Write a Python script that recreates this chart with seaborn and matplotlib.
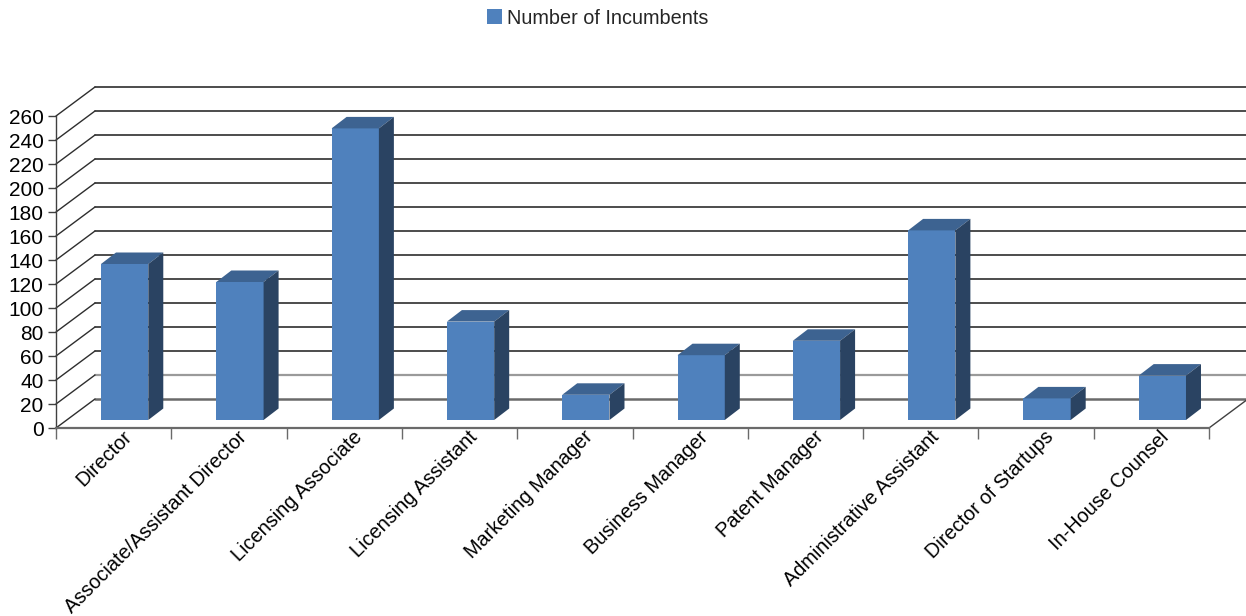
import matplotlib
matplotlib.use("Agg")
import matplotlib.pyplot as plt
import matplotlib.transforms as mtransforms
from matplotlib.patches import Polygon, Patch
from matplotlib.lines import Line2D
import seaborn as sns
import pandas as pd

categories = [
    "Director",
    "Associate/Assistant Director",
    "Licensing Associate",
    "Licensing Assistant",
    "Marketing Manager",
    "Business Manager",
    "Patent Manager",
    "Administrative Assistant",
    "Director of Startups",
    "In-House Counsel",
]
incumbents = [130, 115, 243, 82, 21, 54, 66, 158, 18, 37]
y_ticks = list(range(0, 261, 20))
series_name = "Number of Incumbents"

sns.set_theme(style="white")
plt.rcParams["font.family"] = ["Liberation Sans", "DejaVu Sans"]

W, H, DPI = 1246, 616, 100
fig = plt.figure(figsize=(W / DPI, H / DPI), dpi=DPI)
# front plane of the 3-D box (floor edge to top of value axis)
ax = fig.add_axes([56 / W, (H - 428) / H, (1209 - 56) / W, (428 - 116) / H])

FRONT = "#4F81BD"
TOP = "#3D6391"
SIDE = "#2A4362"
GRID = "#2E2E2E"

# depth offsets in pixels (right, up)
WALL = (39, 29)       # back wall
BAR_FRONT = (11, 8)   # front face of the bars
BAR_DEPTH = (15, 11.5)

df = pd.DataFrame({"role": categories, "count": incumbents})
sns.barplot(data=df, x="role", y="count", color=FRONT, saturation=1,
            width=0.41, linewidth=0, ax=ax, zorder=3)

ax.set_xlim(-0.5, len(categories) - 0.5)
ax.set_ylim(0, 260)
ax.set_xlabel("")
ax.set_ylabel("")


def shifted(dx, dy):
    return ax.transData + mtransforms.ScaledTranslation(dx / DPI, dy / DPI, fig.dpi_scale_trans)


def to_px(x, y, off=(0, 0)):
    px, py = ax.transData.transform((x, y))
    return (px + off[0], py + off[1])


ident = mtransforms.IdentityTransform()

# back wall gridlines and the diagonals on the side wall
x_lo, x_hi = -0.5, len(categories) - 0.5
for v in y_ticks:
    col, lw = GRID, 1.2
    if v == 0:
        col, lw = "#6A6A6A", 1.8
    elif v == 20:
        col, lw = "#9A9A9A", 1.6
    ax.plot([x_lo, x_hi], [v, v], transform=shifted(*WALL), color=col,
            lw=lw, clip_on=False, zorder=1)
    p0 = to_px(x_lo, v)
    p1 = to_px(x_lo, v, WALL)
    ax.add_line(Line2D([p0[0], p1[0]], [p0[1], p1[1]], transform=ident,
                       color=GRID, lw=1.0, clip_on=False, zorder=1))

# right edge of the floor
p0 = to_px(x_hi, 0)
p1 = to_px(x_hi, 0, WALL)
ax.add_line(Line2D([p0[0], p1[0]], [p0[1], p1[1]], transform=ident,
                   color="#404040", lw=1.0, clip_on=False, zorder=1))

# give each bar its top and side faces
back_off = (BAR_FRONT[0] + BAR_DEPTH[0], BAR_FRONT[1] + BAR_DEPTH[1])
for patch in list(ax.patches):
    x0 = patch.get_x()
    x1 = x0 + patch.get_width()
    h = patch.get_height()
    patch.set_transform(shifted(*BAR_FRONT))
    patch.set_clip_on(False)
    top = [to_px(x0, h, BAR_FRONT), to_px(x1, h, BAR_FRONT),
           to_px(x1, h, back_off), to_px(x0, h, back_off)]
    side = [to_px(x1, 0, BAR_FRONT), to_px(x1, h, BAR_FRONT),
            to_px(x1, h, back_off), to_px(x1, 0, back_off)]
    ax.add_patch(Polygon(top, closed=True, transform=ident, facecolor=TOP,
                         edgecolor="none", clip_on=False, zorder=3))
    ax.add_patch(Polygon(side, closed=True, transform=ident, facecolor=SIDE,
                         edgecolor="none", clip_on=False, zorder=3))

# axes styling
for s in ("top", "right"):
    ax.spines[s].set_visible(False)
ax.spines["left"].set_color("#404040")
ax.spines["left"].set_linewidth(1.0)
ax.spines["bottom"].set_color("#6A6A6A")
ax.spines["bottom"].set_linewidth(1.6)
ax.spines["left"].set_zorder(2)
ax.spines["bottom"].set_zorder(2)

ax.set_yticks(y_ticks)
ax.tick_params(axis="y", which="major", left=True, length=6, width=1.0,
               color="#404040", labelsize=15, pad=3, labelcolor="black")

ax.set_xticks([i - 0.5 for i in range(len(categories) + 1)], minor=True)
ax.set_xticks(range(len(categories)))
ax.set_xticklabels(categories, rotation=45, ha="right", va="center",
                   rotation_mode="anchor", fontsize=14.3, color="black")
ax.tick_params(axis="x", which="major", length=0, pad=0)
ax.tick_params(axis="x", which="minor", bottom=True, length=8, width=1.0,
               color="#6A6A6A")
label_shift = mtransforms.ScaledTranslation(15 / DPI, -6 / DPI, fig.dpi_scale_trans)
for lab in ax.get_xticklabels():
    lab.set_transform(lab.get_transform() + label_shift)

ax.set_facecolor("none")
ax.grid(False)

fig.legend(handles=[Patch(facecolor=FRONT, edgecolor="none")], labels=[series_name],
           loc="center", bbox_to_anchor=(598 / W, 1 - 18 / H), frameon=False,
           fontsize=14.3, handlelength=0.75, handleheight=0.75,
           handletextpad=0.25, borderaxespad=0)

fig.savefig("out.png", dpi=DPI, facecolor="white")
